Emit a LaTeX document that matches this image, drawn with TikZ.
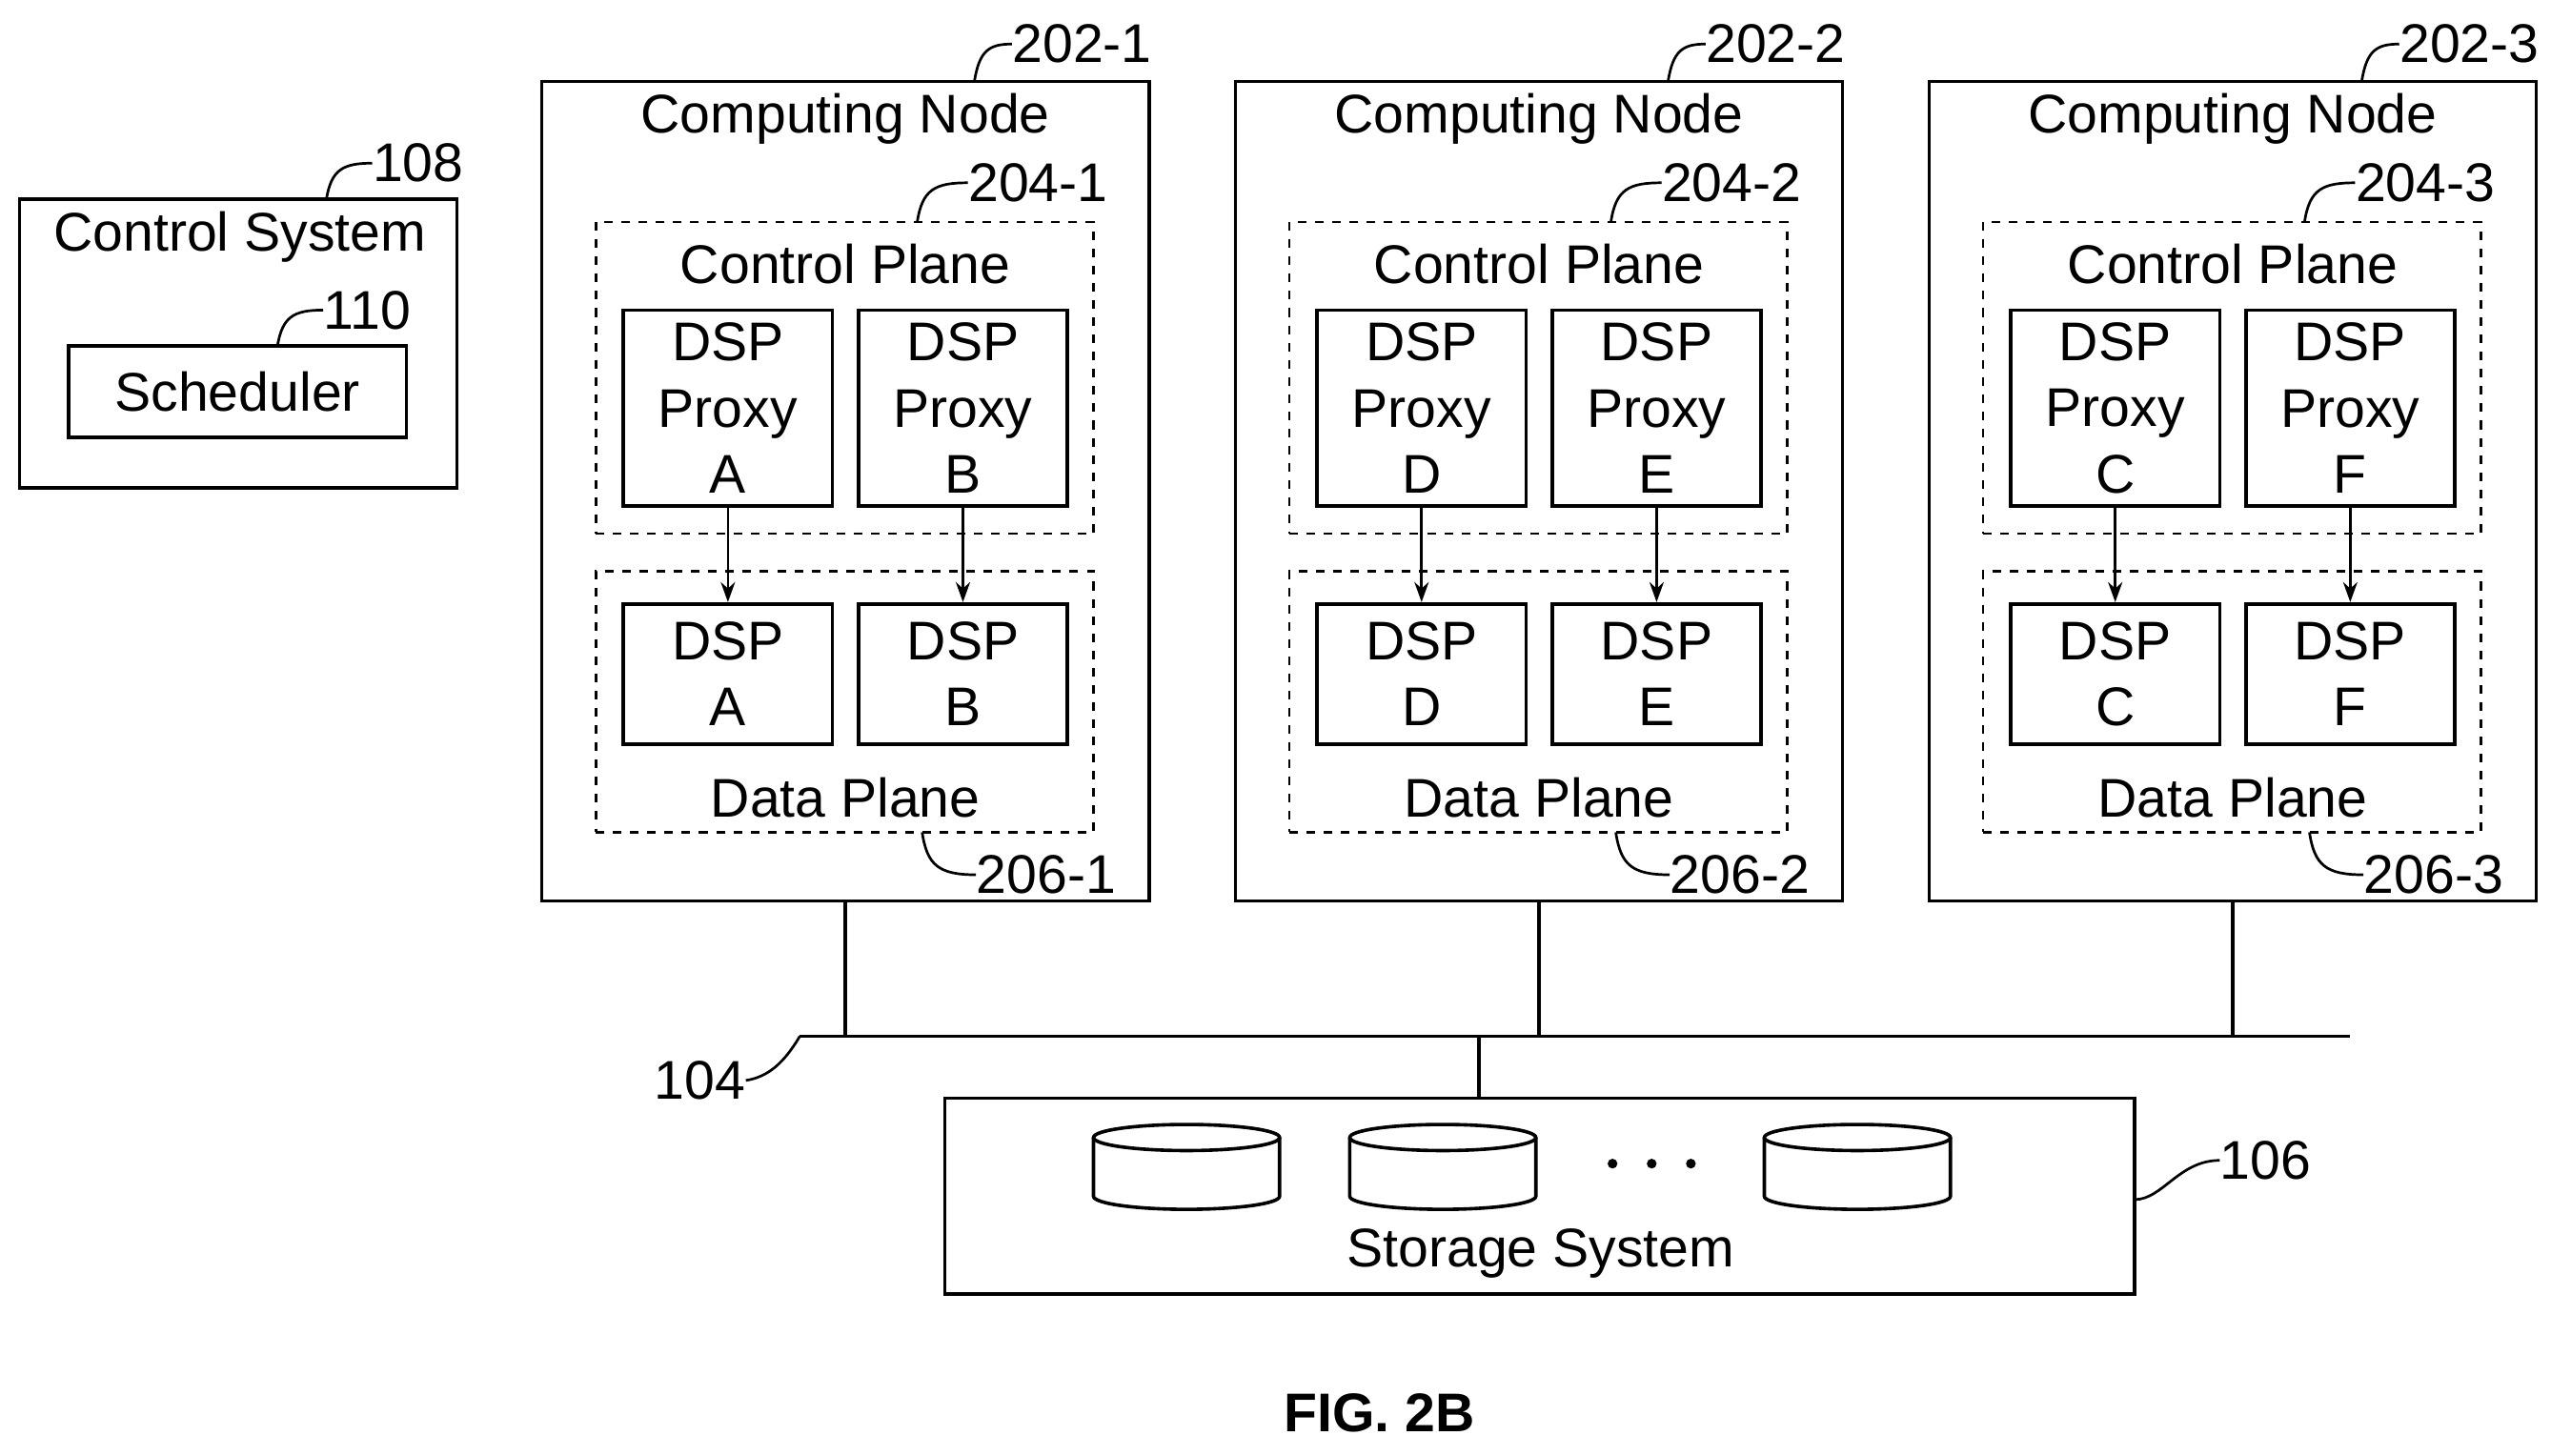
\documentclass[tikz,border=0pt]{standalone}
\usepackage{fontspec}
\setmainfont{Liberation Sans}
\usetikzlibrary{arrows.meta}
\begin{document}
\begin{tikzpicture}[x=0.02cm,y=-0.02cm,
  txt/.style={font=\fontsize{19}{23}\selectfont, inner sep=0pt},
  box/.style={draw, line width=1.2pt, inner sep=0pt},
  dbox/.style={draw, dashed, line width=0.9pt, inner sep=0pt},
  pbox/.style={draw, line width=1.2pt, inner sep=0pt, align=center, font=\fontsize{19}{23}\selectfont},
  ld/.style={line width=0.9pt},
  arr/.style={line width=0.9pt, -{Stealth[length=7pt,width=5pt]}}]
\useasboundingbox (0,0) rectangle (1563,892);
% control system
\node[box, minimum width=268*0.02cm, minimum height=177*0.02cm] (cs) at (146,210.5) {};
\node[txt] (cst) at (147,145) {Control System};
\node[box, minimum width=207*0.02cm, minimum height=56*0.02cm, txt] (sch) at (145.5,240) {Scheduler};
\coordinate (l108) at (200,122);
\node[txt, anchor=west] (t108) at (228,100) {108};
\draw[ld] (l108) .. controls (203,104) and (210,100) .. (t108.west);
\coordinate (l110) at (170,212);
\node[txt, anchor=west] (t110) at (198,190) {110};
\draw[ld] (l110) .. controls (173,194) and (180,190) .. (t110.west);
% computing nodes
\foreach \i/\o/\pa/\pb in {1/0/A/B,2/425/D/E,3/850/C/F}{
  \node[box, minimum width=372*0.02cm, minimum height=502*0.02cm] (cn\i) at (518+\o,301) {};
  \node[txt] (cnt\i) at (518+\o,73) {Computing Node};
  \coordinate (c202\i) at (597+\o,50);
  \node[txt, anchor=west] (t202\i) at (620+\o,27) {202-\i};
  \draw[ld] (c202\i) .. controls (600+\o,31) and (606+\o,27) .. (t202\i.west);
  \node[dbox, minimum width=305*0.02cm, minimum height=191*0.02cm] (cp\i) at (517.5+\o,231.5) {};
  \node[txt] (cpt\i) at (518+\o,162) {Control Plane};
  \coordinate (c204\i) at (562+\o,136);
  \node[txt, anchor=west] (t204\i) at (593+\o,112) {204-\i};
  \draw[ld] (c204\i) .. controls (565+\o,116) and (573+\o,112) .. (t204\i.west);
  \node[pbox, minimum width=128*0.02cm, minimum height=120*0.02cm] (pa\i) at (446+\o,250) {DSP\\Proxy\\\pa};
  \node[pbox, minimum width=128*0.02cm, minimum height=120*0.02cm] (pb\i) at (590+\o,250) {DSP\\Proxy\\\pb};
  \node[dbox, minimum width=305*0.02cm, minimum height=160*0.02cm] (dp\i) at (517.5+\o,430) {};
  \node[pbox, minimum width=128*0.02cm, minimum height=86*0.02cm] (da\i) at (446+\o,413) {DSP\\\pa};
  \node[pbox, minimum width=128*0.02cm, minimum height=86*0.02cm] (db\i) at (590+\o,413) {DSP\\\pb};
  \node[txt] (dpt\i) at (518+\o,489) {Data Plane};
  \coordinate (c206\i) at (565+\o,510);
  \node[txt, anchor=west] (t206\i) at (598+\o,536) {206-\i};
  \draw[ld] (c206\i) .. controls (568+\o,530) and (575+\o,536) .. (t206\i.west);
  \draw[arr] (pa\i.south) -- (da\i.north);
  \draw[arr] (pb\i.south) -- (db\i.north);
  \coordinate (bus\i) at (518+\o,635);
  \draw[line width=1.2pt] (cn\i.south) -- (bus\i);
}
% bus
\coordinate (busl) at (490,635);
\coordinate (busr) at (1440,635);
\draw[line width=1.2pt] (busl) -- (busr);
\node[txt, anchor=east] (t104) at (457,662) {104};
\draw[ld] (busl) .. controls (480,652) and (470,660) .. (t104.east);
% storage
\node[box, minimum width=729*0.02cm, minimum height=120*0.02cm] (st) at (943.5,733) {};
\coordinate (bust) at (906,635);
\draw[line width=1.2pt] (bust) -- (906,673);
\node[txt] (stt) at (944,768) {Storage System};
\foreach \c/\n in {727/d1,884/d2,1138/d3}{
  \draw[line width=1.2pt] (\c-57,697) -- (\c-57,733) arc[start angle=180,end angle=360,x radius=57*0.02cm,y radius=8*0.02cm] -- (\c+57,697);
  \draw[line width=1.2pt] (\c,697) ellipse[x radius=57*0.02cm,y radius=8*0.02cm];
}
\foreach \d in {988,1012,1036}{\fill (\d,713) circle[radius=3*0.02cm];}
\coordinate (c106) at (1308,735);
\node[txt, anchor=west] (t106) at (1360,711) {106};
\draw[ld] (c106) .. controls (1325,735) and (1335,711) .. (t106.west);
\node[font=\fontsize{19}{23}\selectfont\bfseries, inner sep=0pt] (fig) at (845,866) {FIG. 2B};
\end{tikzpicture}
\end{document}
